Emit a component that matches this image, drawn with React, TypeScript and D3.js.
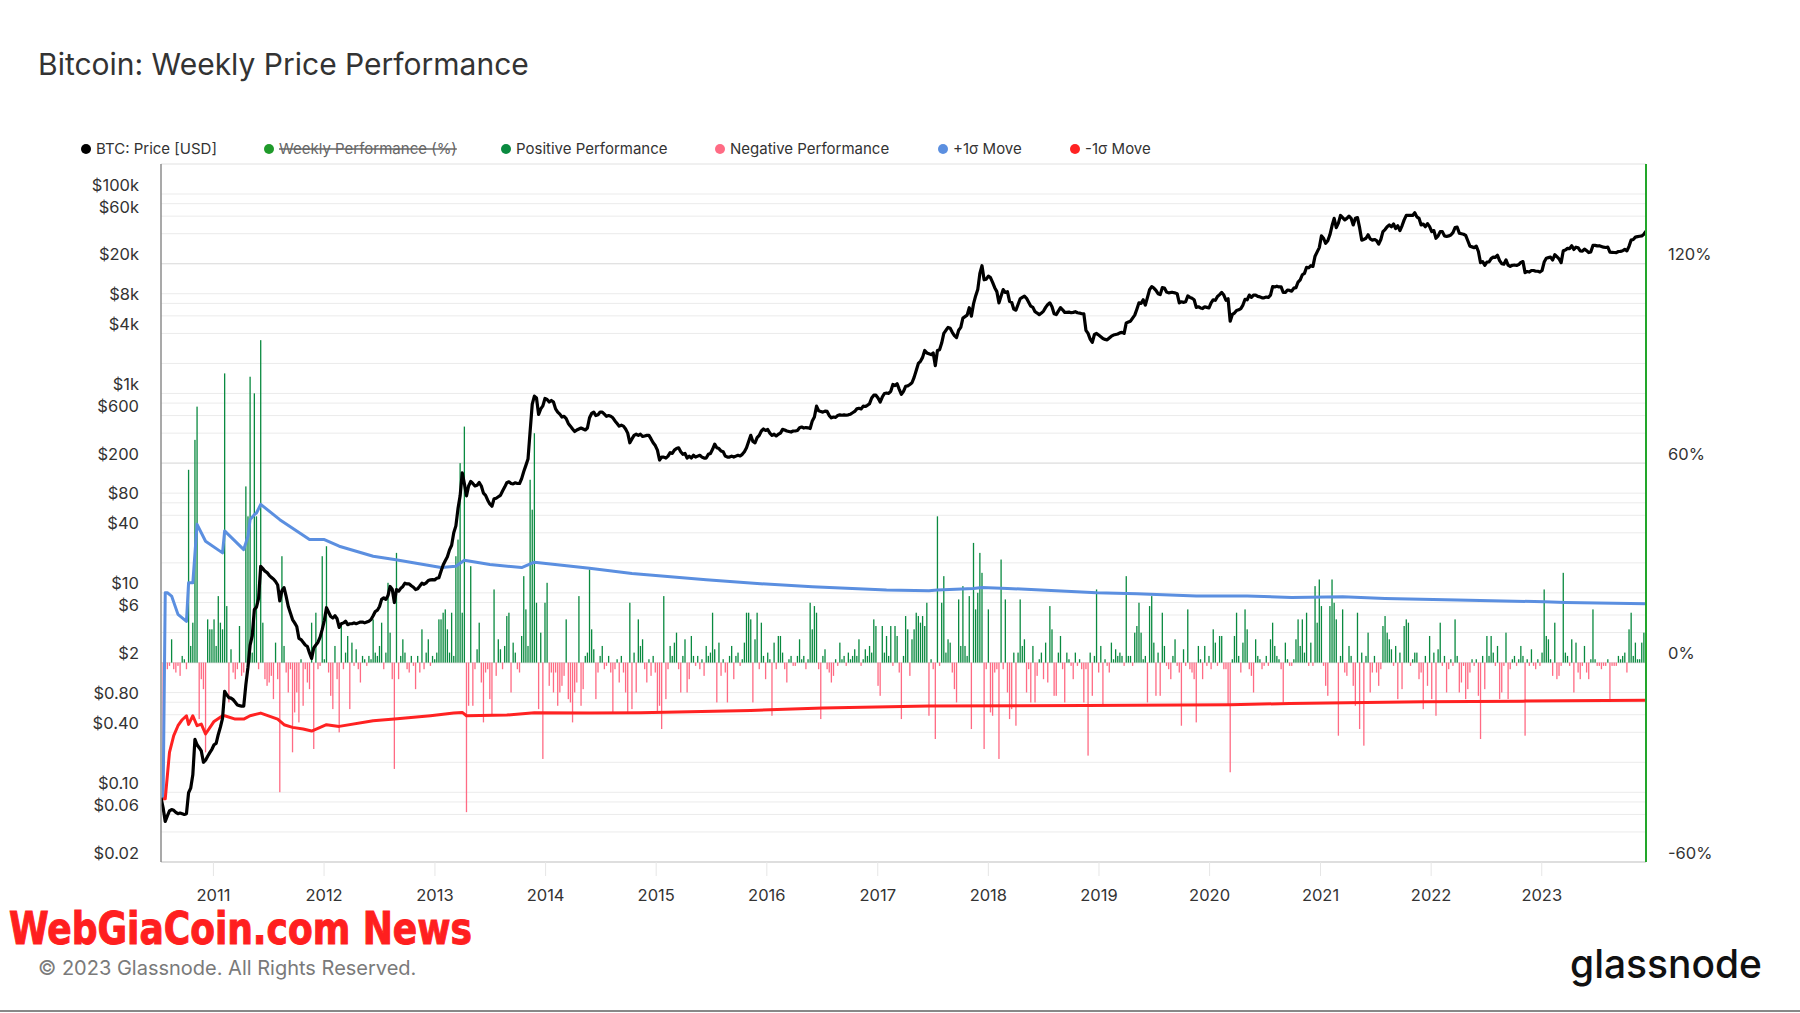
import React from 'react';
import * as d3 from 'd3';

const WIDTH = 1800;
const HEIGHT = 1013;
const plot = { left: 161, right: 1646, top: 164, bottom: 862 };

// weekly data, first week = 2010-07-12
const firstWeek = Date.UTC(2010, 6, 12);
const WEEK = 7 * 24 * 3600 * 1000;

// BTC weekly price [USD], one row ~ a quarter
const btcPrice = [
  // 2010
  0.088, 0.07, 0.051, 0.058, 0.065, 0.067, 0.066, 0.063, 0.061, 0.062, 0.061, 0.06, 0.061,
  0.099, 0.11, 0.15, 0.34, 0.3, 0.28, 0.26, 0.2, 0.21, 0.23, 0.25, 0.27,
  // 2011
  0.3, 0.31, 0.38, 0.45, 0.55, 1.03, 0.95, 0.89, 0.88, 0.85, 0.8, 0.75, 0.74,
  0.73, 0.73, 1.2, 1.8, 3.0, 3.7, 6.8, 7.2, 8.8, 18.5, 17.5, 16.5, 16,
  15, 14.3, 13.8, 13, 12, 8.3, 10.5, 11.3, 9.2, 7.3, 6.3, 5.4, 5.0,
  4.6, 3.5, 3.4, 3.2, 3.0, 2.9, 2.5, 2.2, 2.8, 3.0, 3.2, 3.6, 4.3,
  // 2012
  5.3, 7.1, 6.4, 5.8, 5.6, 5.9, 5.5, 4.5, 4.9, 5.0, 5.2, 4.8, 4.9,
  4.9, 5.0, 4.9, 5.0, 5.1, 5.1, 5.0, 5.1, 5.2, 5.4, 5.9, 6.5, 6.7,
  7.3, 8.6, 8.9, 8.6, 9.4, 11.6, 10.9, 8.0, 10.8, 10.4, 11.1, 11.6, 12.5,
  12.3, 12.3, 11.8, 11.4, 10.8, 11.0, 11.7, 12.5, 12.2, 12.6, 13.3, 13.5, 13.6,
  // 2013
  13.5, 14.0, 14.2, 16.5, 19, 21, 23, 27, 30, 40, 47, 70, 94,
  160, 125, 94, 118, 131, 125, 118, 120, 128, 118, 100, 95, 85,
  78, 74, 88, 89, 92, 95, 105, 115, 127, 130, 125, 124, 127,
  125, 125, 140, 165, 190, 220, 420, 780, 940, 900, 615, 700, 750,
  // 2014
  890, 870, 820, 850, 820, 700, 650, 620, 580, 590, 560, 500, 470,
  440, 415, 430, 440, 450, 440, 430, 450, 570, 630, 650, 600, 610,
  650, 650, 620, 590, 600, 590, 570, 530, 500, 470, 480, 470, 440,
  400, 320, 350, 380, 390, 380, 390, 370, 375, 380, 380, 350, 320,
  // 2015
  300, 270, 215, 230, 230, 225, 235, 255, 250, 270, 280, 285, 260,
  245, 250, 225, 235, 225, 240, 230, 235, 240, 230, 225, 225, 245,
  250, 275, 310, 285, 280, 265, 260, 235, 230, 230, 235, 230, 235,
  240, 236, 245, 260, 285, 330, 380, 330, 320, 360, 380, 420, 440,
  // 2016
  425, 435, 400, 380, 390, 375, 390, 400, 436, 430, 420, 415, 410,
  420, 420, 425, 452, 460, 450, 455, 452, 445, 530, 580, 745, 670,
  660, 650, 665, 660, 600, 570, 580, 575, 600, 610, 605, 610, 605,
  610, 620, 640, 660, 700, 710, 700, 745, 740, 760, 790, 900, 960,
  // 2017
  960, 900, 820, 920, 1000, 1010, 1000, 1050, 1230, 1200, 1250, 1100, 980,
  1050, 1180, 1190, 1230, 1280, 1450, 1700, 2000, 2100, 2300, 2700, 2550, 2500,
  2450, 2550, 1900, 2700, 2750, 3200, 4000, 4300, 4600, 4500, 4100, 3800, 3630,
  4300, 4600, 5700, 5900, 6100, 7240, 5960, 7900, 9500, 11000, 16000, 19100, 13800,
  // 2018
  14000, 15000, 14500, 13000, 11500, 10500, 8100, 9500, 11000, 10300, 10500, 8400, 8200,
  7000, 6840, 7800, 8900, 9200, 9460, 9000, 8200, 7500, 7300, 6600, 6400, 6170,
  6400, 6700, 7300, 7800, 8100, 7400, 6300, 6170, 6700, 7240, 6900, 6500, 6500,
  6550, 6450, 6500, 6600, 6450, 6400, 6300, 6300, 4300, 4000, 3500, 3250, 3900,
  // 2019
  4000, 3850, 3700, 3550, 3480, 3450, 3600, 3750, 3850, 3900, 3950, 4050, 4100,
  4000, 5100, 5200, 5300, 5700, 6100, 7000, 8100, 8000, 8700, 7700, 9200, 11000,
  11800, 11400, 10800, 10000, 9800, 11500, 11400, 10400, 10200, 10300, 10300, 10200, 10000,
  8100, 8300, 8200, 8300, 9500, 9200, 9000, 8700, 7300, 7400, 7200, 7100, 7400,
  // 2020
  7300, 7200, 8100, 8700, 8600, 9400, 9800, 10300, 9700, 8600, 8900, 5300, 6200,
  6400, 6800, 6900, 7100, 7700, 8800, 8700, 9700, 9200, 9700, 9700, 9400, 9300,
  9100, 9100, 9250, 9200, 9700, 11800, 11700, 11900, 11700, 11700, 10300, 10300, 10900,
  10800, 10600, 11400, 11500, 13100, 13800, 15500, 16000, 18400, 18200, 19100, 18800, 23800,
  // 2021
  26300, 29000, 38000, 36000, 32000, 34000, 39000, 48000, 57000, 46000, 51000, 61000, 58000,
  55000, 57000, 60000, 57000, 49000, 57000, 58000, 46000, 34500, 35000, 36000, 39000, 35500,
  34500, 35000, 34000, 31500, 35000, 42000, 44000, 47000, 49000, 47000, 50000, 45000, 48000,
  43000, 48000, 55000, 61000, 61000, 61000, 61000, 65000, 59000, 57000, 49000, 50000, 47000,
  // 2022
  50500, 47000, 42000, 43000, 36000, 38000, 42000, 42000, 38000, 37500, 38000, 38800, 41000,
  46000, 46500, 40500, 40000, 39500, 38500, 34000, 30000, 29500, 29000, 30000, 26500, 20500,
  21000, 19300, 20800, 20800, 22500, 23300, 23200, 24300, 21500, 20000, 19800, 21800, 19400,
  18800, 19300, 19400, 19200, 19600, 20600, 21000, 16300, 16700, 16500, 17100, 17100, 16800,
  // 2023
  16800, 16500, 17100, 20800, 22700, 23000, 23300, 21800, 24600, 23500, 22400, 20500, 27000,
  27500, 28500, 28300, 30300, 27800, 29300, 28900, 26900, 26700, 28000, 27100, 25900, 26300,
  30500, 30500, 30200, 30300, 29800, 29300, 29100, 29400, 26100, 26000, 25900, 25800, 26500,
  26600, 27000, 27900, 26900, 29900, 34500, 35000, 37000, 37400, 37700, 38000, 39500, 42500,
];

// weekly price performance [%]
const weeklyPerf = [
  // 2010
  0, -41, 21, -2, -1, 7, -2, -3, -1, -4, 2, 1, -2,
  58, 5, 12, 67, 77, -17, -5, -8, -27, 13, 10, 10,
  // 2011
  13, 5, 20, 12, 10, 87, 17, -12, 4, -3, -5, -2, 11,
  -4, -3, 53, 44, 86, 3, 81, 44, -2, 97, 12, -5, -7,
  -6, -4, -11, 6, -5, -39, 32, 5, -3, -9, -2, -27, -15,
  -9, -18, 1, -13, -2, -6, -8, 12, -26, 15, -2, -1, 32,
  // 2012
  1, 35, -3, -10, -14, 5, -5, -21, 11, -2, 3, 8, -14,
  6, -1, 4, -2, -6, 2, 1, -1, 2, 1, 13, 3, 2,
  5, 12, -2, 3, 24, 9, -5, -32, 33, -5, 2, 7, 3,
  -2, -3, 2, -1, -8, 2, -3, 10, -2, 3, 7, -1, 2,
  // 2013
  1, 3, 13, 13, 15, 16, 10, 3, 15, 2, 32, 37, 60,
  15, 71, -45, -13, 29, -13, -2, 4, 12, -6, -18, -3, -2,
  -11, -16, 22, -4, 7, 4, -2, 5, 14, 15, -9, 6, 3,
  -2, -3, 8, 26, 16, 5, 55, 46, 69, 18, -14, 9, -29,
  // 2014
  18, 24, -7, -3, -9, -3, -13, -9, -7, -4, 13, -11, -12,
  -18, -9, -6, 20, -13, -8, 2, 3, 28, 10, 4, -11, -3,
  2, 5, -2, -1, 2, -3, -15, -2, 1, -6, 2, -3, -9,
  -15, 18, -14, 3, -9, 13, 5, 7, -2, -6, 1, -4, 2,
  // 2015
  -3, -15, -13, -20, 20, -11, -2, 5, 2, 6, 9, -2, -9,
  2, 7, -9, -5, 8, 2, -1, 2, -2, 1, -4, 5, 2,
  3, 15, 4, -12, 6, -4, 1, -3, -12, 2, 5, -5, 2,
  3, -1, 1, 6, 15, 15, 13, -12, 7, 15, -2, 12, 2,
  // 2016
  -5, 3, 1, -16, 6, -2, 8, 8, 3, -2, -6, 1, 2,
  -1, -1, 2, 7, 1, 2, -2, 1, 18, 10, 17, 15, -2,
  -17, 2, 4, -2, -3, -6, -4, 1, -1, 6, 1, 2, -1,
  3, 1, 2, 4, 2, 7, -1, 1, 4, 2, 5, 3, 13,
  // 2017
  11, -7, -10, 11, 3, 8, 2, 11, -1, 11, 8, -3, -17,
  2, 14, 10, -4, 7, 10, 15, 14, 12, 14, 11, 18, -16,
  1, -2, -23, 44, -1, 18, 26, 3, 7, 6, -3, -8, -12,
  19, 5, 23, 5, 2, 20, -20, 36, 16, 21, 33, 27, -26,
  // 2018
  -2, 16, -15, -16, -3, -2, -29, 31, -2, 19, -9, -17, -14,
  3, -19, 3, 19, 5, 7, -9, -2, -12, 5, -12, -4, 1,
  3, -5, 6, -6, 17, 10, -10, -10, 3, 8, -2, -12, 3,
  1, -1, -5, 3, -1, 1, -2, -12, -2, -28, 3, -10, 2,
  // 2019
  22, -3, 5, -13, 1, -1, -3, 6, 1, 4, 2, 3, 2,
  -1, 26, 2, 2, -1, 9, 11, 18, 9, 1, 2, -12, 17,
  20, 6, -10, 3, -10, 15, 5, -1, -2, -5, 2, 7, -1,
  -3, -19, 4, -1, 16, -2, -3, -5, -18, 5, 1, -5, 5,
  // 2020
  -1, 2, -2, 10, 6, -1, 8, 8, -2, -2, -13, -33, 1,
  8, 15, 2, -3, 6, 16, 10, -2, -4, -9, 7, 2, 1,
  -2, -1, 2, -1, 7, 12, 5, 2, 1, -2, -12, 6, 1,
  -1, -1, 1, 7, 13, 5, 13, 3, 15, -1, 6, -1, 23,
  // 2021
  12, 25, 17, -1, -7, -10, 17, 25, 18, 13, -22, 2, 16,
  -3, -4, 5, 2, -7, -13, 15, -20, 3, -25, 2, 9, -9,
  -3, 2, -3, -7, -2, 11, 14, 9, 7, 4, -1, 5, -11,
  3, -8, 11, 13, 12, -1, 1, 3, 3, -5, -3, -14, 2,
  // 2022
  -7, 8, -11, 3, -16, 4, 12, -1, 2, -9, -2, 1, -1,
  13, 2, -9, -6, -1, -11, -8, -3, 1, -1, 1, -10, -23,
  2, -8, 8, 2, 8, 3, -1, 5, -11, -9, -1, 9, -11,
  -2, 1, 2, -1, 1, 5, 2, -22, 1, -1, 4, -1, -2,
  // 2023
  1, -1, 3, 22, 8, 7, 1, -4, 12, -5, -4, -1, 27,
  3, 2, -1, 7, -9, 6, -3, -5, -1, 5, -3, -5, 1,
  16, 1, -1, -1, -2, -1, -1, 1, -11, -1, -1, -1, 2,
  1, 2, 3, -3, 10, 15, 2, 6, 1, 1, 6, 9, 5,
];

// +1σ / -1σ move, [week index, %]
const plusSigma: [number, number][] = [
  [1, -41], [2, 21], [3, 21], [5, 20], [8, 14.5], [12, 12.4], [13, 24], [15, 24], [17, 41.6],
  [21, 36.5], [29, 33], [30, 39.6], [39, 34], [40, 36], [41, 38], [42, 43], [44, 44.5], [45, 45],
  [47, 47.6], [56, 43], [70, 37], [77, 37], [84, 35], [100, 32], [110, 31], [132, 28.6],
  [139, 29], [143, 30.8], [155, 29.5], [170, 28.6], [176, 30.2], [202, 28.4], [222, 26.8],
  [257, 24.9], [281, 23.8], [307, 22.8], [342, 21.8], [362, 21.6], [366, 21.8], [383, 22.3],
  [387, 22.6], [399, 22.3], [441, 21], [460, 20.7], [488, 20], [512, 20], [533, 19.6],
  [557, 19.8], [577, 19.3], [611, 18.8], [652, 18.3], [662, 18.1], [700, 17.7],
];
const minusSigma: [number, number][] = [
  [1, -41], [2, -41], [4, -27], [6, -22], [8, -19], [10, -17.2], [12, -16], [13, -18.6],
  [15, -16], [17, -19], [19, -18.5], [21, -21.5], [25, -17.7], [29, -16], [30, -16], [35, -17],
  [39, -17], [42, -16], [47, -15.2], [55, -17], [58, -18.7], [62, -19.5], [67, -20], [71, -20.6],
  [78, -18.7], [84, -19.2], [100, -17.5], [110, -17], [127, -16], [138, -15.2], [142, -15],
  [144, -16], [163, -15.8], [176, -15.1], [202, -15.2], [226, -15.1], [278, -14.4],
  [312, -13.7], [362, -13.1], [436, -12.9], [504, -12.7], [532, -12.3], [595, -11.8],
  [642, -11.6], [700, -11.3],
];

const priceTicks = [100000, 60000, 20000, 8000, 4000, 1000, 600, 200, 80, 40, 10, 6, 2, 0.8, 0.4, 0.1, 0.06, 0.02];
const priceTickLabels = ['$100k', '$60k', '$20k', '$8k', '$4k', '$1k', '$600', '$200', '$80', '$40', '$10', '$6', '$2', '$0.80', '$0.40', '$0.10', '$0.06', '$0.02'];
const priceGrid = [
  0.04, 0.06, 0.08, 0.1, 0.2, 0.4, 0.6, 0.8, 1, 2, 4, 6, 8, 10, 20, 40, 60, 80, 100, 200, 400, 600, 800,
  1000, 2000, 4000, 6000, 8000, 10000, 20000, 40000, 60000, 80000, 100000, 200000,
];
const perfTicks = [120, 60, 0, -60];
const years = [2011, 2012, 2013, 2014, 2015, 2016, 2017, 2018, 2019, 2020, 2021, 2022, 2023];

const legendItems = [
  { label: 'BTC: Price [USD]', color: '#000000', x: 86, hidden: false },
  { label: 'Weekly Performance (%)', color: '#1f9a2a', x: 269, hidden: true },
  { label: 'Positive Performance', color: '#0a8a40', x: 506, hidden: false },
  { label: 'Negative Performance', color: '#ff6b84', x: 720, hidden: false },
  { label: '+1σ Move', color: '#5b8fe0', x: 943, hidden: false },
  { label: '-1σ Move', color: '#ff2222', x: 1075, hidden: false },
];

const FONT = "Inter, 'Noto Sans', 'DejaVu Sans', sans-serif";

export default function App() {
  const n = Math.min(btcPrice.length, weeklyPerf.length);
  const weekDate = (i: number) => new Date(firstWeek + i * WEEK);

  const x = d3.scaleUtc().domain([weekDate(0), weekDate(n - 1)]).range([plot.left, plot.right]);
  const yPrice = d3.scaleLog().domain([0.02, 200000]).range([plot.bottom, plot.top]);
  const yPerf = d3.scaleLinear().domain([-60, 150]).range([plot.bottom, plot.top]);

  const priceLine = d3.line<number>()
    .x((_, i) => x(weekDate(i)))
    .y(d => yPrice(d));
  const sigmaLine = d3.line<[number, number]>()
    .x(d => x(weekDate(d[0])))
    .y(d => yPerf(d[1]));

  const zeroY = yPerf(0);

  return (
    <svg width={WIDTH} height={HEIGHT} style={{ position: 'absolute', left: 0, top: 0, background: '#fff' }}
      fontFamily={FONT}>
      <defs>
        <clipPath id="plot-clip">
          <rect x={plot.left} y={plot.top} width={plot.right - plot.left} height={plot.bottom - plot.top} />
        </clipPath>
      </defs>
      <rect x={0} y={0} width={WIDTH} height={HEIGHT} fill="#fff" />

      <text x={38} y={75} fontSize={30} fill="#333">Bitcoin: Weekly Price Performance</text>

      {/* legend */}
      {legendItems.map(item => (
        <g key={item.label}>
          <circle cx={item.x} cy={149} r={5} fill={item.color} />
          <text x={item.x + 10} y={154} fontSize={15} fill={item.hidden ? '#666' : '#333'}
            style={item.hidden ? { textDecoration: 'line-through' } : undefined}>{item.label}</text>
        </g>
      ))}

      {/* grid */}
      {priceGrid.map(v => (
        <line key={'g' + v} x1={plot.left} x2={plot.right} y1={yPrice(v)} y2={yPrice(v)} stroke="#ebebeb" strokeWidth={1} />
      ))}
      {perfTicks.map(v => (
        <line key={'p' + v} x1={plot.left} x2={plot.right} y1={yPerf(v)} y2={yPerf(v)} stroke="#e2e2e2" strokeWidth={1.2} />
      ))}
      <line x1={plot.left} x2={plot.right} y1={plot.top} y2={plot.top} stroke="#ebebeb" />
      <line x1={plot.left} x2={plot.right} y1={plot.bottom} y2={plot.bottom} stroke="#d8d8d8" strokeWidth={1.5} />
      {years.map(yr => {
        const xx = x(new Date(Date.UTC(yr, 0, 1)));
        return <line key={'t' + yr} x1={xx} x2={xx} y1={plot.bottom} y2={plot.bottom + 14} stroke="#e6e6e6" />;
      })}

      <g clipPath="url(#plot-clip)">
        {/* performance bars */}
        {weeklyPerf.slice(0, n).map((v, i) => (
          v === 0 ? null :
            <rect key={'b' + i} x={x(weekDate(i)) - 0.65} width={1.3}
              y={Math.min(zeroY, yPerf(v))} height={Math.abs(yPerf(v) - zeroY)}
              fill={v > 0 ? '#0a8a40' : '#ff6b84'} />
        ))}
        <path d={sigmaLine(plusSigma) || ''} fill="none" stroke="#5b8fe0" strokeWidth={3} strokeLinejoin="round" />
        <path d={sigmaLine(minusSigma) || ''} fill="none" stroke="#ff2222" strokeWidth={3} strokeLinejoin="round" />
        <path d={priceLine(btcPrice.slice(0, n)) || ''} fill="none" stroke="#000" strokeWidth={3.2} strokeLinejoin="round" />
      </g>

      {/* axes */}
      <line x1={plot.left} x2={plot.left} y1={plot.top} y2={plot.bottom} stroke="#8c8c8c" strokeWidth={1.5} />
      <line x1={plot.right} x2={plot.right} y1={plot.top} y2={plot.bottom} stroke="#22a62a" strokeWidth={2} />

      {priceTicks.map((v, i) => (
        <text key={'l' + v} x={139} y={yPrice(v) - 3.5} textAnchor="end" fontSize={16.5} fill="#333">{priceTickLabels[i]}</text>
      ))}
      {perfTicks.map(v => (
        <text key={'r' + v} x={1668} y={yPerf(v) - 3.5} fontSize={16.5} fill="#333">{v + '%'}</text>
      ))}
      {years.map(yr => (
        <text key={'y' + yr} x={x(new Date(Date.UTC(yr, 0, 1)))} y={901} textAnchor="middle" fontSize={16.5} fill="#333">{yr}</text>
      ))}

      {/* footer */}
      <text x={9} y={944} fontSize={44} fontWeight="bold" fill="#ff1f1f" stroke="#ff1f1f" strokeWidth={1}
        fontFamily="'DejaVu Sans Condensed', 'DejaVu Sans', sans-serif"
        textLength={463} lengthAdjust="spacingAndGlyphs">WebGiaCoin.com News</text>
      <text x={38} y={975} fontSize={20} fill="#7a7a7a">© 2023 Glassnode. All Rights Reserved.</text>
      <text x={1570} y={978} fontSize={40} fontWeight={500} fill="#111" textLength={192} lengthAdjust="spacingAndGlyphs">glassnode</text>
      <line x1={0} x2={WIDTH} y1={1011} y2={1011} stroke="#888" strokeWidth={2} />
    </svg>
  );
}
